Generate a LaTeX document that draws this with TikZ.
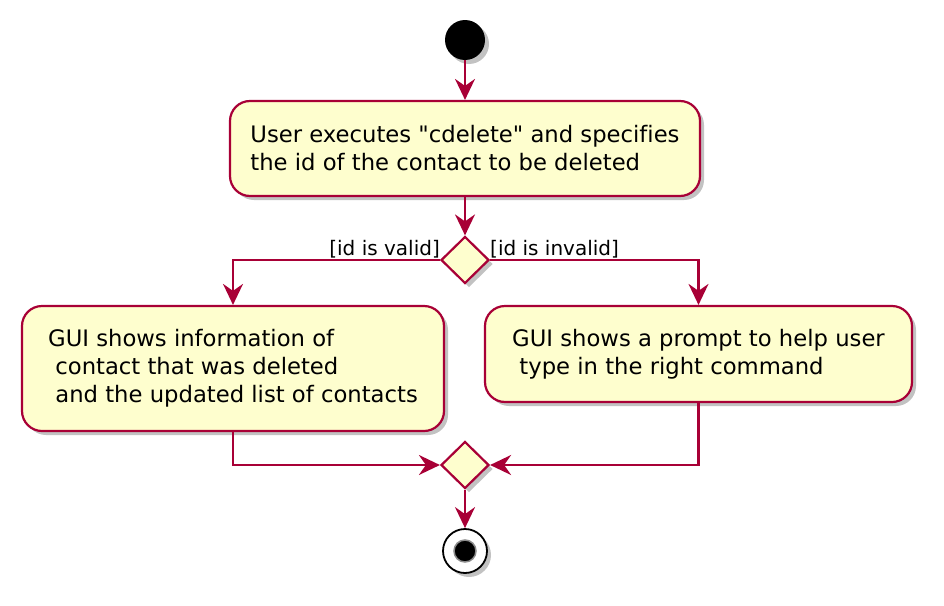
\documentclass[tikz,border=0pt]{standalone}
\usepackage{fontspec}
\setmainfont{DejaVu Sans}[Ligatures={NoCommon}]
\usetikzlibrary{arrows.meta,shapes.geometric,shadows}

\definecolor{umlred}{HTML}{A80036}
\definecolor{umlfill}{HTML}{FEFECE}
\newcommand{\actfont}{\fontsize{22.7}{28}\selectfont}
\newcommand{\guardfont}{\fontsize{20}{24}\selectfont}

\begin{document}
\begin{tikzpicture}[x=1pt, y=-1pt,
    >={Stealth[length=21pt, width=20pt, inset=7pt]},
    umlshadow/.style={ drop shadow={ shadow xshift=4pt, shadow yshift=-4pt,
        fill=black!60, opacity=0.4 } },
    action/.style={ draw=umlred, fill=umlfill, line width=2.2pt,
      rounded corners=20pt, align=left, font=\actfont, inner sep=0pt,
      umlshadow },
    decision/.style={ diamond, draw=umlred, fill=umlfill, line width=2.2pt,
      minimum width=48pt, minimum height=47pt, inner sep=0pt, umlshadow },
    flow/.style={ ->, draw=umlred, line width=2.2pt },
    guard/.style={ font=\guardfont, inner sep=0pt } ]
  \useasboundingbox (0,0) rectangle (944,605);

  \node[circle, fill=black, minimum size=40pt, inner sep=0pt, umlshadow]
    (start) at (465,40) {};
  \node[action, minimum width=470pt, minimum height=95pt] (act1) at (465,148.5)
    {User executes \textquotedbl cdelete\textquotedbl{} and specifies\\the id of the contact to be deleted};
  \node[decision] (dec1) at (465,260) {};
  \node[action, minimum width=422pt, minimum height=125pt] (act2) at (233,368.5)
    {GUI shows information of\\ \ contact that was deleted\\ \ and the updated list of contacts};
  \node[action, minimum width=427pt, minimum height=96pt] (act3) at (698.5,354)
    {GUI shows a prompt to help user\\ \ type in the right command};
  \node[decision] (mer) at (465,465) {};
  \node[circle, draw=black, fill=white, line width=1.8pt, minimum size=44pt,
    inner sep=0pt, umlshadow] (stop) at (465,551) {};
  \node[circle, fill=black, draw=black!45, line width=1.5pt, minimum size=22pt,
    inner sep=0pt] (stopdot) at (stop) {};

  \node[guard, anchor=base east] (valid) at (440,255) {[id is valid]};
  \node[guard, anchor=base west] (invalid) at (490,255) {[id is invalid]};

  \foreach \a/\b in {start/act1, act1/dec1, mer/stop}
    \draw[flow] (\a) -- (\b);
  \draw[flow] (dec1.west) -| (act2);
  \draw[flow] (dec1.east) -| (act3);
  \draw[flow] (act2) |- (mer);
  \draw[flow] (act3) |- (mer);
\end{tikzpicture}
\end{document}
